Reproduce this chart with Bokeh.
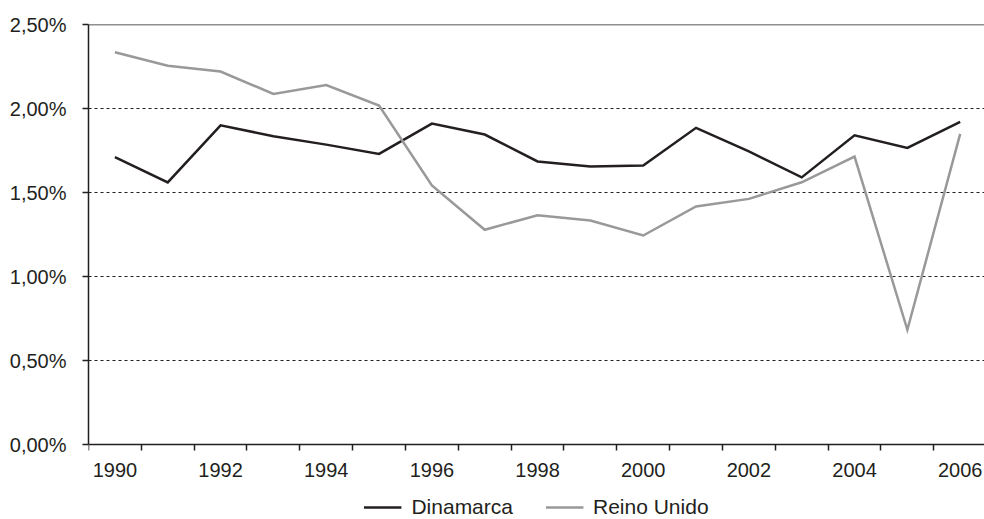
from bokeh.plotting import figure
from bokeh.models import FixedTicker, Span, Legend, LegendItem, Range1d
from bokeh.embed import file_html
from bokeh.resources import INLINE

# ---- data (percent) ----
years = list(range(1990, 2007))
dinamarca = [1.71, 1.56, 1.90, 1.835, 1.785, 1.73, 1.91, 1.845, 1.685, 1.655,
             1.66, 1.885, 1.745, 1.59, 1.84, 1.765, 1.92]
reino_unido = [2.335, 2.255, 2.22, 2.087, 2.14, 2.018, 1.542, 1.278, 1.365, 1.333,
               1.244, 1.417, 1.462, 1.561, 1.714, 0.683, 1.849]
year_labels = [1990, 1992, 1994, 1996, 1998, 2000, 2002, 2004, 2006]
y_ticks = [0.0, 0.5, 1.0, 1.5, 2.0, 2.5]
y_tick_labels = ["0,00%", "0,50%", "1,00%", "1,50%", "2,00%", "2,50%"]
series_names = ["Dinamarca", "Reino Unido"]

DARK = "#231f20"
GREY = "#999999"
FONT = "Liberation Sans"

# frame extends to the bottom of the canvas so that the legend can sit inside it;
# the x axis is drawn at y = 0
p = figure(width=984, height=519,
           x_range=Range1d(1989.5, 2006.46), y_range=Range1d(-0.4464, 2.5),
           output_backend="svg", toolbar_location=None,
           min_border_left=88, min_border_right=0,
           min_border_top=24, min_border_bottom=0)
p.outline_line_color = None
p.background_fill_color = "white"
p.border_fill_color = "white"

r1 = p.line(years, dinamarca, line_color=DARK, line_width=2.5, line_join="miter")
r2 = p.line(years, reino_unido, line_color=GREY, line_width=2.5, line_join="miter")

# top border line
p.add_layout(Span(location=y_ticks[-1], dimension="width",
                  line_color=DARK, line_width=1.5))

# grid
p.xgrid.visible = False
p.ygrid.ticker = FixedTicker(ticks=y_ticks[1:-1])
p.ygrid.grid_line_color = DARK
p.ygrid.grid_line_dash = "3 3"
p.ygrid.grid_line_width = 1

# x axis: labels every 2 years, ticks at category boundaries
boundaries = [y - 0.5 for y in years] + [years[-1] + 0.5]
xa = p.xaxis[0]
xa.fixed_location = y_ticks[0]
xa.ticker = FixedTicker(ticks=year_labels, minor_ticks=boundaries)
xa.major_tick_out = 0
xa.major_tick_in = 0
xa.minor_tick_out = 6
xa.minor_tick_in = 0
xa.minor_tick_line_color = DARK
xa.minor_tick_line_width = 1.5
xa.axis_line_color = DARK
xa.axis_line_width = 1.5
xa.major_label_standoff = 12
xa.major_label_text_font = FONT
xa.major_label_text_font_size = "20px"
xa.major_label_text_color = DARK

ya = p.yaxis[0]
ya.bounds = (y_ticks[0], y_ticks[-1])
ya.ticker = FixedTicker(ticks=y_ticks)
ya.major_label_overrides = {t: l for t, l in zip(y_ticks, y_tick_labels)}
ya.major_tick_out = 6
ya.major_tick_in = 0
ya.minor_tick_out = 0
ya.minor_tick_in = 0
ya.major_tick_line_color = DARK
ya.major_tick_line_width = 1.5
ya.axis_line_color = DARK
ya.axis_line_width = 1.5
ya.major_label_standoff = 16
ya.major_label_text_font = FONT
ya.major_label_text_font_size = "20px"
ya.major_label_text_color = DARK

legend = Legend(items=[LegendItem(label=series_names[0], renderers=[r1]),
                       LegendItem(label=series_names[1], renderers=[r2])],
                orientation="horizontal", location="bottom_center",
                glyph_width=38, glyph_height=20, label_standoff=10, spacing=32,
                padding=0, margin=0, border_line_alpha=0, background_fill_alpha=0,
                label_text_font=FONT, label_text_font_size="21px",
                label_text_color=DARK)
p.add_layout(legend)

open("out.html", "w").write(file_html(p, INLINE))
